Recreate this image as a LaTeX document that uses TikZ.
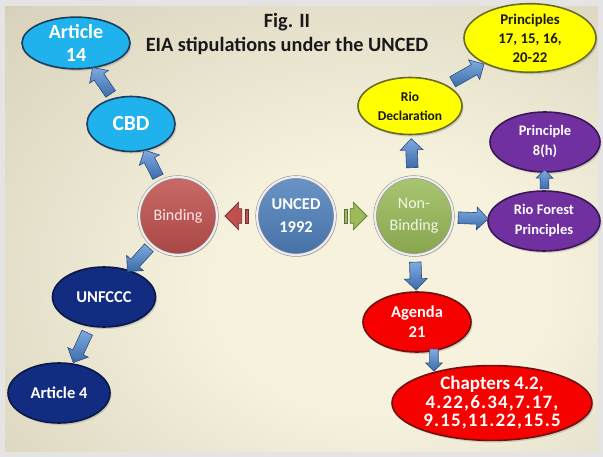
\documentclass[tikz,border=0pt]{standalone}
\usepackage{fontspec}
\setmainfont{Carlito}
\usetikzlibrary{shapes.geometric,shapes.arrows,calc,shadows}
\definecolor{framegray}{HTML}{E4E4E4}
\definecolor{bglight}{HTML}{F6F2DD}
\definecolor{bgmid}{HTML}{DAD4BE}
\definecolor{bgdark}{HTML}{A29C8A}
\definecolor{cyanfill}{HTML}{1FB2EC}
\definecolor{cyanline}{HTML}{1C3D5E}
\definecolor{navyfill}{HTML}{112C80}
\definecolor{navyline}{HTML}{0A1848}
\definecolor{yelfill}{HTML}{FFFF00}
\definecolor{yelline}{HTML}{6A6A2A}
\definecolor{purfill}{HTML}{7030A0}
\definecolor{purline}{HTML}{3A1858}
\definecolor{redfill}{HTML}{F70000}
\definecolor{redline}{HTML}{701010}
\definecolor{bindfill}{HTML}{C0504D}
\definecolor{uncedfill}{HTML}{4F81BD}
\definecolor{nonbfill}{HTML}{9BBB59}
\definecolor{arrowlight}{HTML}{7EAAE0}
\definecolor{arrowdark}{HTML}{3D6CAA}
\definecolor{arrowline}{HTML}{2C4C7C}
\pgfdeclareradialshading{bgshade}{\pgfpoint{8bp}{-8bp}}{color(0bp)=(bglight); color(14bp)=(bglight); color(40bp)=(bgmid); color(60bp)=(bgdark); color(90bp)=(bgdark)}
\newcommand{\wideline}[1]{{\addfontfeature{LetterSpace=6}#1}}
\tikzset{
  fs/.style 2 args={font=\fontsize{#1}{#2}\selectfont\bfseries},
  fr/.style 2 args={font=\fontsize{#1}{#2}\selectfont},
  ell/.style={ellipse, inner sep=0pt, align=center, line width=1.6pt,
    drop shadow={opacity=0.3, shadow xshift=1.5pt, shadow yshift=-2pt}},
  cyanell/.style={ell, fill=cyanfill, draw=cyanline, text=white},
  navyell/.style={ell, fill=navyfill, draw=navyline, text=white},
  yelell/.style={ell, fill=yelfill, draw=yelline, text=black!90},
  purell/.style={ell, fill=purfill, draw=purline, text=white},
  redell/.style={ell, fill=redfill, draw=redline, text=white},
  circ/.style={circle, minimum size=78pt, inner sep=0pt, align=center,
    draw=black!45, double=white!93!black, double distance=2.2pt, line width=0.5pt,
    drop shadow={opacity=0.25, shadow xshift=1.5pt, shadow yshift=-2pt}},
  barrow/.style={single arrow, draw=arrowline, line width=0.6pt,
    top color=arrowlight, bottom color=arrowdark, inner xsep=0pt, inner ysep=5.5pt,
    single arrow head extend=5.5pt, single arrow head indent=0pt,
    sloped, allow upside down, midway},
  smallarrow/.style={inner ysep=4pt, single arrow head extend=4pt},
  sarrow/.style={single arrow, line width=0.6pt, inner xsep=0pt, inner ysep=7pt,
    single arrow head extend=6.5pt, single arrow head indent=0pt,
    minimum height=17pt, sloped, allow upside down, midway},
  stripe/.style={rectangle, inner sep=0pt, minimum width=3pt, minimum height=14pt, line width=0.6pt}
}
\begin{document}
\begin{tikzpicture}[x=1pt,y=-1pt]
\useasboundingbox (0,0) rectangle (603,457);
\fill[framegray] (0,0) rectangle (603,457);
\shade[shading=bgshade] (5,7) rectangle (598,451);

% title
\node[fs={20.3}{24}, align=center, text=black!90] (title) at (287,34) {Fig. II\\EIA stipulations under the UNCED};

% circles
\node[circ, top color=bindfill!85!white, bottom color=bindfill!88!black, text=white!90!red, fr={16}{19}] (binding) at (178,216) {Binding};
\node[circ, top color=uncedfill!85!white, bottom color=uncedfill!88!black, text=white, fs={16.5}{23}] (unced) at (296,216) {UNCED\\1992};
\node[circ, top color=nonbfill!85!white, bottom color=nonbfill!88!black, text=white!86!nonbfill, fr={16}{22}] (nonbinding) at (414,216) {Non-\\Binding};

% left branch
\node[cyanell, minimum width=108pt, minimum height=50pt, fs={20}{22.5}] (article14) at (76,43) {Article\\14};
\node[cyanell, minimum width=88pt, minimum height=55pt, fs={21.5}{24}] (cbd) at (131,124) {CBD};
\node[navyell, minimum width=103pt, minimum height=60pt, fs={16.5}{19}] (unfccc) at (104,297) {UNFCCC};
\node[navyell, minimum width=102pt, minimum height=60pt, fs={16.5}{19}] (article4) at (59,393) {Article 4};

% right branch
\node[yelell, minimum width=104pt, minimum height=57pt, fs={13.5}{19}] (riodecl) at (410,106) {Rio\\Declaration};
\node[yelell, minimum width=132pt, minimum height=62pt, fs={14.8}{19}] (principles) at (530,38) {Principles\\17, 15, 16,\\20-22};
\node[purell, minimum width=110pt, minimum height=60pt, fs={14.5}{20}] (principle8) at (545,142) {Principle\\8(h)};
\node[purell, minimum width=112pt, minimum height=60pt, fs={14.5}{20}] (rioforest) at (544,221) {Rio Forest\\Principles};
\node[redell, minimum width=108pt, minimum height=60pt, fs={16.5}{20}] (agenda) at (417,322) {Agenda\\21};
\node[redell, minimum width=200pt, minimum height=70pt, fs={19}{18.5}] (chapters) at (492,403) {Chapters 4.2,\\\wideline{4.22,6.34,7.17,}\\\wideline{9.15,11.22,15.5}};

% striped arrows from UNCED
\path (unced) -- (binding) node[sarrow, fill=bindfill, draw=bindfill!60!black] (ra) {};
\node[stripe, fill=bindfill, draw=bindfill!60!black] (rs) at ($(ra.tail)+(4.5,0)$) {};
\path (unced) -- (nonbinding) node[sarrow, fill=nonbfill, draw=nonbfill!60!black] (ga) {};
\node[stripe, fill=nonbfill, draw=nonbfill!60!black] (gs) at ($(ga.tail)+(-4.5,0)$) {};

% blue block arrows
\path (binding) -- (cbd) node[barrow, minimum height=30pt] (a1) {};
\path (cbd) -- (article14) node[barrow, minimum height=32pt] (a2) {};
\path (binding) -- (unfccc) node[barrow, minimum height=32pt] (a3) {};
\path (unfccc) -- (article4) node[barrow, minimum height=33pt] (a4) {};
\path (nonbinding) -- (riodecl) node[barrow, minimum height=29pt] (a5) {};
\path (riodecl) -- (principles) node[barrow, minimum height=36pt] (a6) {};
\path (nonbinding) -- (rioforest) node[barrow, minimum height=30pt] (a7) {};
\path (rioforest) -- (principle8) node[barrow, smallarrow, minimum height=19pt] (a8) {};
\path (nonbinding) -- (agenda) node[barrow, minimum height=28pt] (a9) {};
\path (agenda.-60) -- (agenda.-60 |- chapters.north) node[barrow, smallarrow, minimum height=22pt] (a10) {};
\end{tikzpicture}
\end{document}
